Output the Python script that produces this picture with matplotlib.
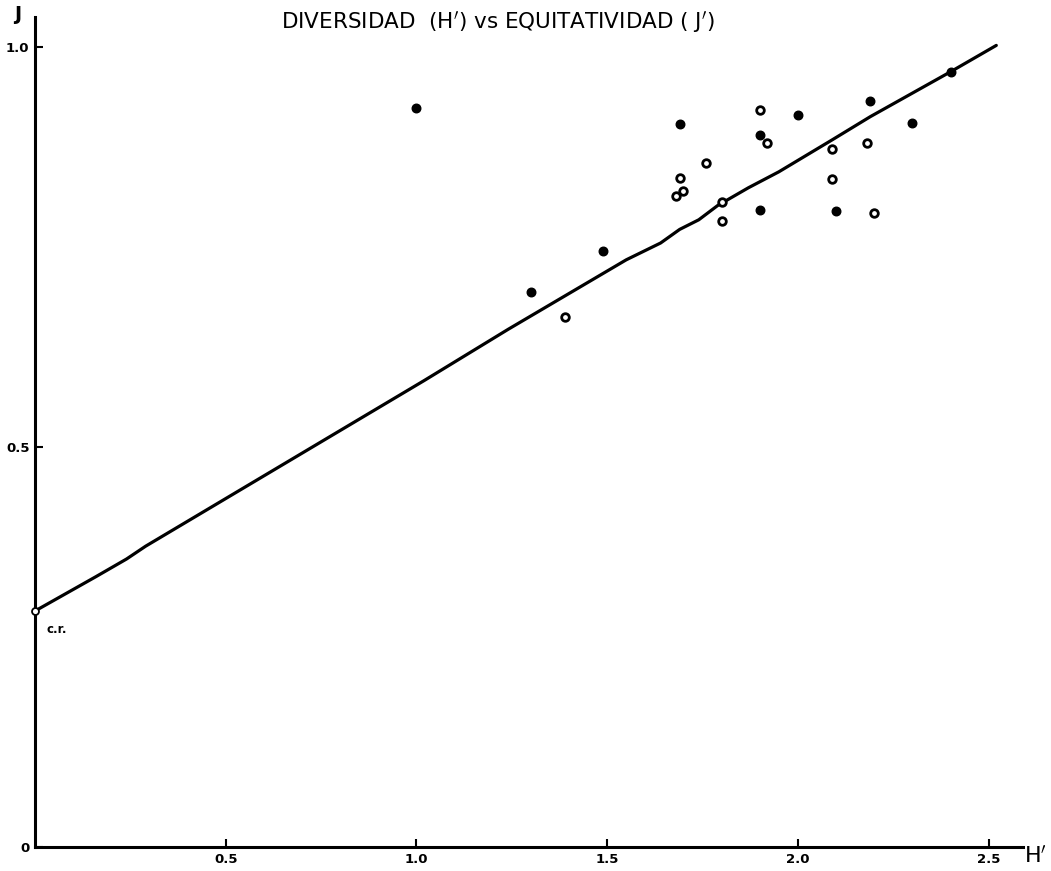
import matplotlib
matplotlib.use("Agg")
import matplotlib.pyplot as plt

# Filled points (H', J')
filled_h = [1.00, 1.30, 1.49, 1.69, 1.90, 2.00, 2.19, 2.30, 2.10, 2.40, 1.90]
filled_j = [0.924, 0.694, 0.745, 0.904, 0.890, 0.915, 0.932, 0.905, 0.795, 0.969, 0.796]

# Open points (H', J')
open_h = [1.39, 1.69, 1.70, 1.68, 1.76, 1.80, 1.80, 1.90, 1.92, 2.09, 2.18, 2.09, 2.20]
open_j = [0.662, 0.836, 0.820, 0.814, 0.855, 0.806, 0.782, 0.921, 0.880, 0.872, 0.880, 0.835, 0.792]

# Hand-drawn trend line
line_h = [0.00, 0.16, 0.24, 0.29, 1.02, 1.24, 1.55, 1.64, 1.69, 1.74, 1.79,
          1.87, 1.95, 2.09, 2.19, 2.40, 2.52]
line_j = [0.295, 0.338, 0.360, 0.376, 0.583, 0.647, 0.734, 0.755, 0.772,
          0.784, 0.802, 0.824, 0.844, 0.884, 0.913, 0.969, 1.002]

x_ticks = [0.5, 1.0, 1.5, 2.0, 2.5]
x_tick_labels = ["0.5", "1.0", "1.5", "2.0", "2.5"]
y_ticks = [0, 0.5, 1.0]
y_tick_labels = ["0", "0.5", "1.0"]

title = "DIVERSIDAD  (H$^{\\prime}$) vs EQUITATIVIDAD ( J$^{\\prime}$)"

fig = plt.figure(figsize=(10.51, 8.71), dpi=100)
ax = fig.add_axes([35 / 1051, 1 - 847 / 871, (1023 - 35) / 1051, (847 - 17) / 871])

ax.set_xlim(0, 2.59)
ax.set_ylim(0, 1.0375)

for s in ["top", "right"]:
    ax.spines[s].set_visible(False)
for s in ["left", "bottom"]:
    ax.spines[s].set_linewidth(2.2)
    ax.spines[s].set_color("black")

ax.set_xticks(x_ticks)
ax.set_xticklabels(x_tick_labels, fontsize=9.5, fontweight="bold")
ax.set_yticks(y_ticks)
ax.set_yticklabels(y_tick_labels, fontsize=9.5, fontweight="bold")
ax.tick_params(axis="both", direction="in", length=6, width=1.5, color="black")
ax.tick_params(axis="x", pad=4)
ax.tick_params(axis="y", pad=4)

ax.plot(line_h, line_j, color="black", lw=2.3, solid_capstyle="round", zorder=2)
ax.plot([line_h[0]], [line_j[0]], marker="o", ms=5, mfc="white", mec="black",
        mew=1.3, clip_on=False, zorder=4)
ax.text(0.03, 0.272, "c.r.", fontsize=8.5, fontweight="bold", ha="left", va="center")

ax.scatter(filled_h, filled_j, s=38, color="black", zorder=3)
ax.scatter(open_h, open_j, s=30, facecolor="white", edgecolor="black",
           linewidths=2.0, zorder=3)

fig.text(498 / 1051, 1 - 22 / 871, title, fontsize=15.5, ha="center", va="center")
fig.text(18 / 1051, 1 - 15 / 871, "J", fontsize=14, fontweight="bold",
         ha="center", va="center")
fig.text(1036 / 1051, 1 - 856 / 871, "H$^{\\prime}$", fontsize=16,
         ha="center", va="center")

fig.savefig("out.png", dpi=100)
